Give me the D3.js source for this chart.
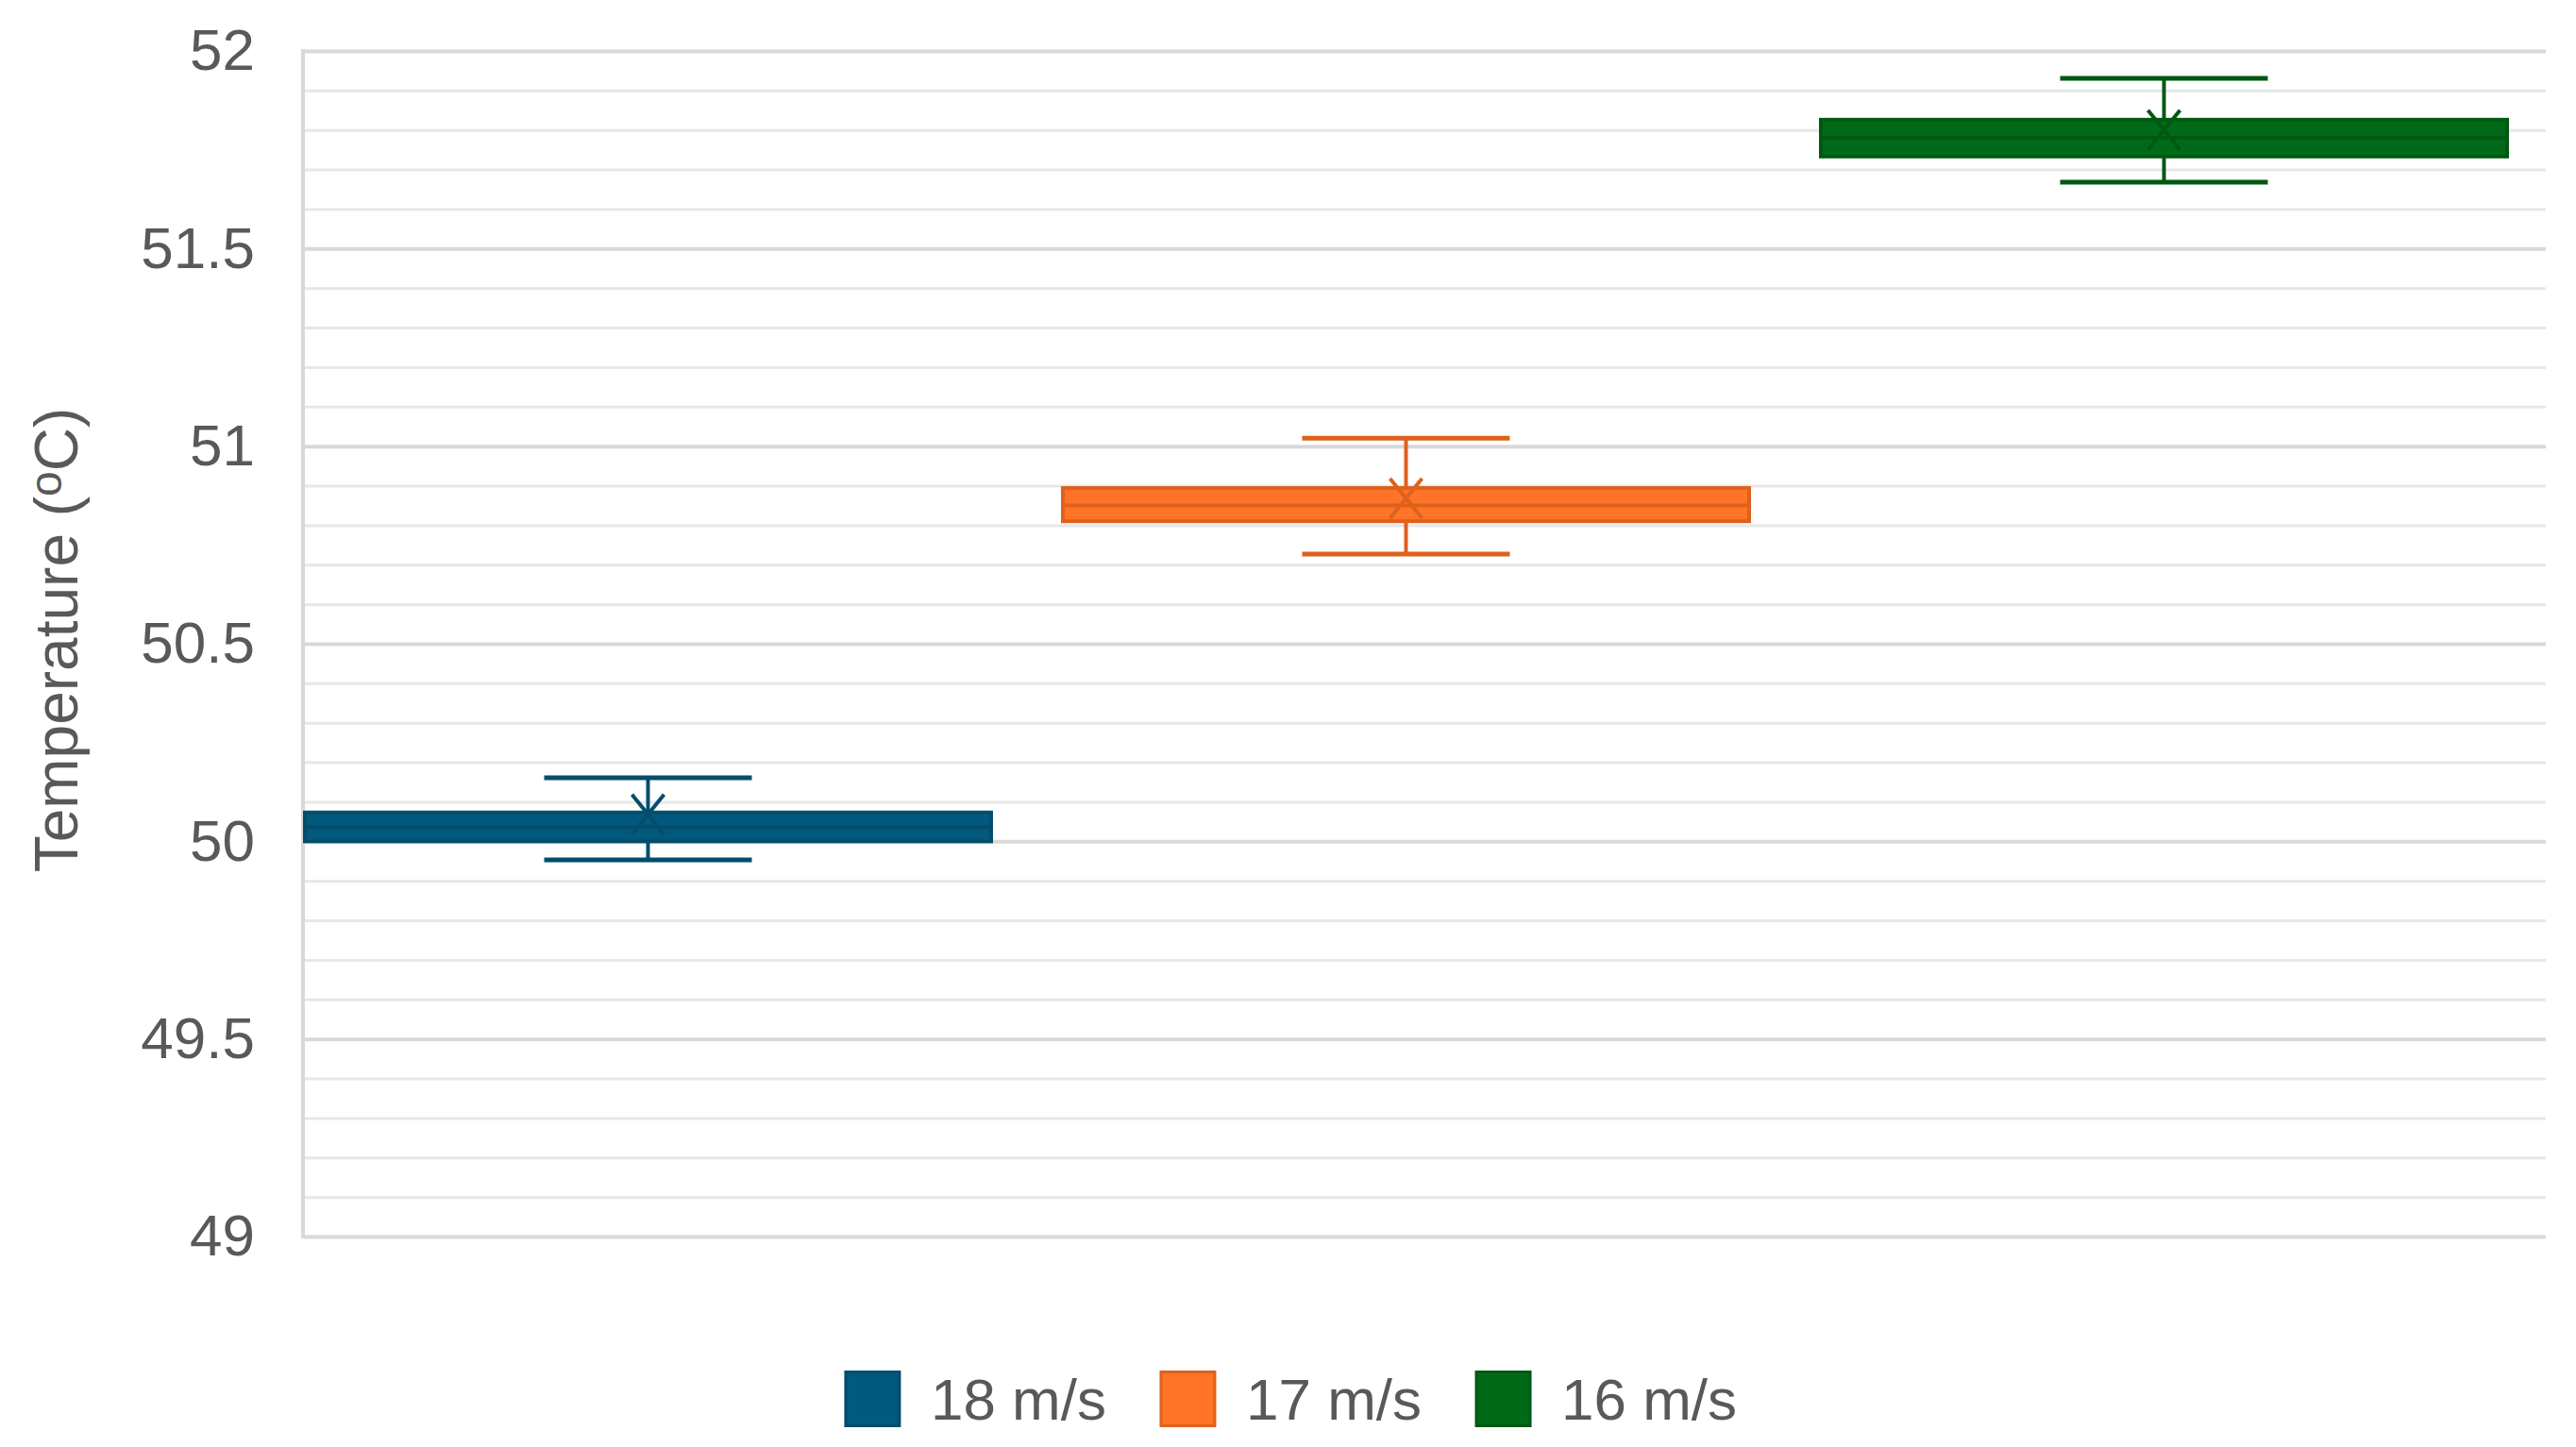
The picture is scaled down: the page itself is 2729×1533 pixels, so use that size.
<!DOCTYPE html>
<html>
<head>
<meta charset="utf-8">
<script src="https://cdn.jsdelivr.net/npm/d3@7"></script>
<style>
  html, body { margin: 0; padding: 0; background: #ffffff; }
  svg { display: block; }
  text { font-family: "Liberation Sans", Arial, sans-serif; fill: #595959; }
</style>
</head>
<body>
<svg id="chart" width="2729" height="1533"></svg>
<script>
// ---- data ----
const seriesNames = ["18 m/s", "17 m/s", "16 m/s"];
const minVals    = [49.953, 50.727, 51.668];
const q1Vals     = [50.000, 50.810, 51.733];
const medianVals = [50.036, 50.850, 51.780];
const q3Vals     = [50.073, 50.894, 51.826];
const maxVals    = [50.161, 51.020, 51.931];
const meanVals   = [50.068, 50.868, 51.800];
const yTickLabels = [49, 49.5, 50, 50.5, 51, 51.5, 52];
const yDomain = [49, 52];
const yTitle = "Temperature (";
const yTitleSup = "o";
const yTitleEnd = "C)";

const fillColors   = ["#015a7e", "#ff7427", "#016a18"];
const strokeColors = ["#034d6b", "#de611d", "#015813"];

// ---- layout ----
const svg = d3.select("#chart");
const plotLeft = 321, plotRight = 2697, plotTop = 54, plotBottom = 1310;

const y = d3.scaleLinear().domain(yDomain).range([plotBottom, plotTop]);
const x = d3.scaleBand().domain(seriesNames)
  .range([plotLeft, 2658]).paddingInner(0.0897).paddingOuter(0).align(0);

const minorTicks = d3.range(0, 31).map(i => +(yDomain[0] + i * 0.1).toFixed(1))
  .filter(v => Math.abs(v * 2 - Math.round(v * 2)) > 1e-6);

// minor gridlines
const gMinor = svg.append("g").attr("transform", `translate(${plotLeft},0)`)
  .call(d3.axisLeft(y).tickValues(minorTicks).tickSize(-(plotRight - plotLeft)).tickFormat(""));
gMinor.select(".domain").remove();
gMinor.selectAll(".tick line").attr("stroke", "#e7e7e7").attr("stroke-width", 3);

// major gridlines
const gMajor = svg.append("g").attr("transform", `translate(${plotLeft},0)`)
  .call(d3.axisLeft(y).tickValues(yTickLabels).tickSize(-(plotRight - plotLeft)).tickFormat(""));
gMajor.select(".domain").remove();
gMajor.selectAll(".tick line").attr("stroke", "#d9d9d9").attr("stroke-width", 4);

// vertical axis line
svg.append("line")
  .attr("x1", plotLeft).attr("x2", plotLeft)
  .attr("y1", y(yDomain[1]) - 2).attr("y2", y(yDomain[0]) + 2)
  .attr("stroke", "#d9d9d9").attr("stroke-width", 4);

// tick labels
const gLab = svg.append("g").attr("transform", `translate(${plotLeft},0)`)
  .call(d3.axisLeft(y).tickValues(yTickLabels).tickSize(0).tickPadding(51).tickFormat(d => String(d)));
gLab.select(".domain").remove();
gLab.selectAll("text")
  .style("font-family", '"Liberation Sans", Arial, sans-serif')
  .attr("font-size", 62).attr("fill", "#595959");

// y title
const title = svg.append("text")
  .attr("transform", `translate(82,${(plotTop + plotBottom) / 2 - 4}) rotate(-90)`)
  .attr("text-anchor", "middle")
  .attr("font-size", 64);
title.append("tspan").text(yTitle);
title.append("tspan").attr("font-size", 48).attr("dy", -17).text(yTitleSup);
title.append("tspan").attr("dy", 17).text(yTitleEnd);

// boxes
const capHalf = 110;
const markHalfW = 17, markHalfH = 21;
seriesNames.forEach((name, i) => {
  const g = svg.append("g");
  const x0 = x(name), bw = x.bandwidth(), cx = x0 + bw / 2;
  const sc = strokeColors[i];
  // whisker stem
  g.append("line").attr("x1", cx).attr("x2", cx)
    .attr("y1", y(maxVals[i])).attr("y2", y(minVals[i]))
    .attr("stroke", sc).attr("stroke-width", 4);
  // caps
  [maxVals[i], minVals[i]].forEach(v => {
    g.append("line").attr("x1", cx - capHalf).attr("x2", cx + capHalf)
      .attr("y1", y(v)).attr("y2", y(v))
      .attr("stroke", sc).attr("stroke-width", 5);
  });
  // box
  g.append("rect")
    .attr("x", x0 + 2).attr("width", bw - 4)
    .attr("y", y(q3Vals[i])).attr("height", y(q1Vals[i]) - y(q3Vals[i]))
    .attr("fill", fillColors[i]).attr("stroke", sc).attr("stroke-width", 4);
  // median
  g.append("line").attr("x1", x0 + 2).attr("x2", x0 + bw - 2)
    .attr("y1", y(medianVals[i])).attr("y2", y(medianVals[i]))
    .attr("stroke", sc).attr("stroke-width", 4);
  // mean marker (X)
  const my = y(meanVals[i]);
  g.append("path")
    .attr("d", `M${cx - markHalfW},${my - markHalfH}L${cx + markHalfW},${my + markHalfH}M${cx + markHalfW},${my - markHalfH}L${cx - markHalfW},${my + markHalfH}`)
    .attr("stroke", sc).attr("stroke-width", 4).attr("fill", "none");
});

// legend
const legend = svg.append("g");
const legY = 1482, sq = 57, sqGap = 33, itemGap = 58;
const items = seriesNames.map((name, i) => {
  const gi = legend.append("g");
  gi.append("rect").attr("x", 0).attr("y", legY - sq / 2).attr("width", sq).attr("height", sq)
    .attr("fill", fillColors[i]).attr("stroke", strokeColors[i]).attr("stroke-width", 3);
  const t = gi.append("text").attr("x", sq + sqGap).attr("y", legY)
    .attr("dominant-baseline", "central").attr("font-size", 62).text(name);
  return { gi, w: sq + sqGap + t.node().getComputedTextLength() };
});
const totalW = d3.sum(items, d => d.w) + itemGap * (items.length - 1);
let cur = 1368 - totalW / 2;
items.forEach(it => { it.gi.attr("transform", `translate(${cur},0)`); cur += it.w + itemGap; });
</script>
</body>
</html>
